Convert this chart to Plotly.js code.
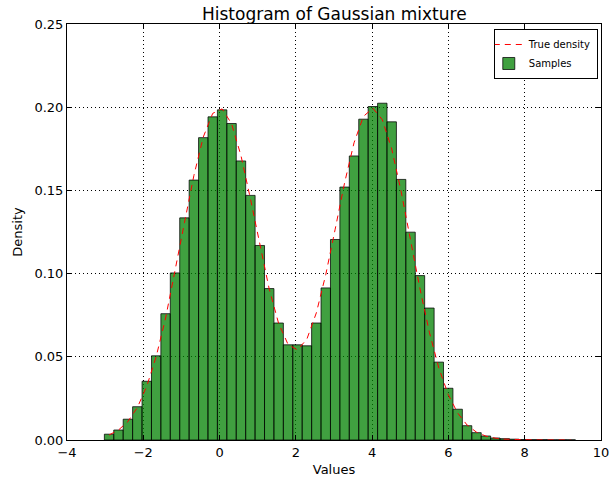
<!DOCTYPE html>
<html>
<head>
<meta charset="utf-8">
<script src="https://cdn.plot.ly/plotly-3.0.1.min.js"></script>
<style>html,body{margin:0;padding:0;background:#fff;}#chart{width:610px;height:479px;}</style>
</head>
<body>
<div id="chart"></div>
<script>
// Bin centers (bin width ~0.247)
var binCenters = [-2.897,-2.650,-2.403,-2.156,-1.909,-1.662,-1.415,-1.168,-0.921,-0.674,
  -0.427,-0.180,0.067,0.314,0.561,0.808,1.055,1.302,1.549,1.796,
  2.043,2.290,2.537,2.784,3.031,3.278,3.525,3.772,4.019,4.266,
  4.513,4.760,5.007,5.254,5.501,5.748,5.995,6.242,6.489,6.736,
  6.983,7.230,7.477,7.724,7.971,8.218,8.465,8.712,8.959,9.206];
var binWidth = 0.247;
// Histogram densities
var sampleDensity = [0.0035,0.0060,0.0125,0.0200,0.0353,0.0506,0.0759,0.1004,0.1335,0.1562,
  0.1817,0.1942,0.1984,0.1902,0.1677,0.1470,0.1169,0.0910,0.0703,0.0572,
  0.0572,0.0566,0.0703,0.0914,0.1205,0.1520,0.1707,0.1928,0.2004,0.2024,
  0.1912,0.1566,0.1249,0.0988,0.0793,0.0468,0.0311,0.0185,0.0086,0.0044,
  0.0024,0.0012,0.0008,0.0005,0.0003,0.0002,0.0002,0.0001,0.0001,0.0001];
// True density curve read at the same x positions
var trueDensity = [0.0030,0.0060,0.0111,0.0195,0.0323,0.0501,0.0733,0.1008,0.1305,0.1589,
  0.1821,0.1963,0.1990,0.1901,0.1709,0.1451,0.1169,0.0907,0.0700,0.0574,
  0.0541,0.0607,0.0764,0.0994,0.1267,0.1546,0.1786,0.1945,0.1994,0.1925,
  0.1749,0.1494,0.1201,0.0909,0.0647,0.0433,0.0273,0.0162,0.0090,0.0047,
  0.0023,0.0011,0.0005,0.0002,0.0001,0.00005,0.00002,0.00001,0.0,0.0];
var xTicks = [-4,-2,0,2,4,6,8,10];
var yTicks = [0.00,0.05,0.10,0.15,0.20,0.25];

var widths = binCenters.map(function(){return binWidth;});

var traces = [
  {
    type: 'bar', x: binCenters, y: sampleDensity, width: widths,
    name: 'Samples', legendrank: 2,
    marker: {color: 'rgba(0,128,0,0.75)', line: {color: 'rgba(0,0,0,0.75)', width: 1}},
    hoverinfo: 'x+y'
  },
  {
    type: 'scatter', mode: 'lines', x: binCenters, y: trueDensity,
    name: 'True density', legendrank: 1,
    line: {color: 'red', width: 1, dash: '6px,5px'}
  }
];

var axisCommon = {
  showline: true, linecolor: '#000', linewidth: 1, mirror: 'allticks',
  ticks: 'inside', ticklen: 5, tickcolor: '#000', tickwidth: 1,
  showgrid: true, gridcolor: '#000', gridwidth: 1, griddash: '1px,3px',
  zeroline: false,
  tickfont: {family: 'DejaVu Sans', size: 13, color: '#000'}
};

var layout = {
  width: 610, height: 479,
  margin: {l: 67, r: 9, t: 24, b: 39},
  paper_bgcolor: '#fff', plot_bgcolor: '#fff',
  font: {family: 'DejaVu Sans', color: '#000'},
  title: {text: 'Histogram of Gaussian mixture', font: {family: 'DejaVu Sans', size: 17, color: '#000'},
          x: 0.548, xanchor: 'center', y: 0.97, yanchor: 'middle', yref: 'container'},
  bargap: 0,
  showlegend: true,
  legend: {x: 0.994, xanchor: 'right', y: 0.988, yanchor: 'top',
           bordercolor: '#000', borderwidth: 1, bgcolor: '#fff',
           font: {family: 'DejaVu Sans', size: 10, color: '#000'},
           itemwidth: 30, tracegroupgap: 0, indentation: -6},
  xaxis: Object.assign({}, axisCommon, {
    range: [-4, 10], tickvals: xTicks, ticktext: xTicks.map(function(v){return v < 0 ? '\u2212' + Math.abs(v) : String(v);}),
    title: {text: 'Values', font: {family: 'DejaVu Sans', size: 13, color: '#000'}, standoff: 6},
    automargin: false
  }),
  yaxis: Object.assign({}, axisCommon, {
    range: [0, 0.25], tickvals: yTicks, ticktext: yTicks.map(function(v){return v.toFixed(2);}),
    title: {text: 'Density', font: {family: 'DejaVu Sans', size: 13, color: '#000'}, standoff: 8},
    automargin: false
  })
};

Plotly.newPlot('chart', traces, layout, {staticPlot: true, displayModeBar: false});
</script>
</body>
</html>
